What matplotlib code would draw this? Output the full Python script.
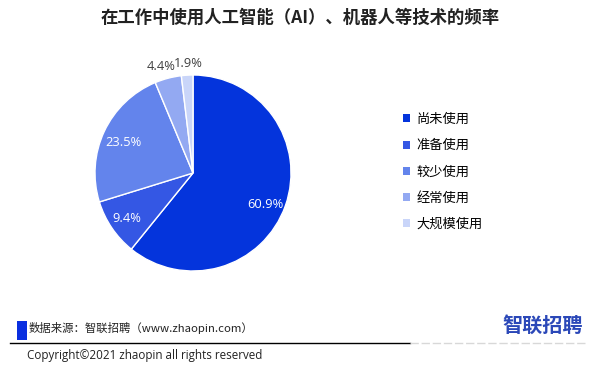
import numpy as np
import matplotlib
matplotlib.use("Agg")
import matplotlib.pyplot as plt
from matplotlib.patches import Patch, Rectangle
from matplotlib.lines import Line2D

plt.rcParams['font.family'] = ['Noto Sans CJK SC', 'DejaVu Sans']

# data
categories = ['尚未使用', '准备使用', '较少使用', '经常使用', '大规模使用']
shares = [60.9, 9.4, 23.5, 4.4, 1.9]
colors = ['#0434dc', '#3457e4', '#6384ec', '#93a9f2', '#c9d5f9']
label_text = ['60.9%', '9.4%', '23.5%', '4.4%', '1.9%']

fig = plt.figure(figsize=(6, 3.71), dpi=100)

# pie axes: centre ~ (193,173) px, radius ~98 px
cx, cy, r = 193, 173, 98
ax = fig.add_axes([(cx - r) / 600, (371 - cy - r) / 371, 2 * r / 600, 2 * r / 371])
wedges, _ = ax.pie(shares, colors=colors, startangle=90, counterclock=False,
                   wedgeprops=dict(edgecolor='white', linewidth=1.0))
ax.set_aspect('auto')
ax.set_xlim(-1, 1)
ax.set_ylim(-1, 1)

# percentage labels, inside for big slices, outside for the small ones
offsets = [(0, -0.06), (-0.03, -0.03), (0, -0.02), (-0.04, 0), (0.02, 0)]
for w, txt, (ox, oy) in zip(wedges, label_text, offsets):
    mid = np.deg2rad((w.theta1 + w.theta2) / 2)
    big = (w.theta2 - w.theta1) > 25
    dist = 0.78 if big else 1.12
    col = 'white' if big else '#404040'
    ax.text(dist * np.cos(mid) + ox, dist * np.sin(mid) + oy, txt, ha='center', va='center',
            fontsize=9.3, color=col, family=['Open Sans', 'DejaVu Sans'], clip_on=False)

# legend
handles = [Patch(facecolor=c, edgecolor='none') for c in colors]
fig.legend(handles, categories, loc='upper left', bbox_to_anchor=(403 / 600, 1 - 113 / 371),
           frameon=False, fontsize=9.5, handlelength=0.55, handleheight=0.55,
           handletextpad=0.45, labelspacing=1.0, borderaxespad=0, borderpad=0)

# title
fig.text(0.5, 1 - 18 / 371, '在工作中使用人工智能（AI）、机器人等技术的频率',
         ha='center', va='center', fontsize=12.5, fontweight='bold', color='#222222')

# footer
fig.patches.append(Rectangle((17 / 600, 1 - 340 / 371), 10 / 600, 19 / 371,
                             transform=fig.transFigure, facecolor='#0a2fe0', edgecolor='none'))
fig.text(29 / 600, 1 - 328 / 371, '数据来源：智联招聘（www.zhaopin.com）',
         ha='left', va='center', fontsize=8.2, color='#222222')
fig.lines.append(Line2D([10 / 600, 410 / 600], [1 - 343 / 371] * 2, transform=fig.transFigure,
                        color='black', linewidth=1.0))
fig.lines.append(Line2D([410 / 600, 585 / 600], [1 - 343 / 371] * 2, transform=fig.transFigure,
                        color='#d8d8d8', linewidth=1.0, linestyle=(0, (6, 2))))
fig.text(27 / 600, 1 - 355 / 371, 'Copyright©2021 zhaopin all rights reserved',
         ha='left', va='center', fontsize=8.4, color='#222222', family=['Open Sans', 'DejaVu Sans'])
fig.text(543 / 600, 1 - 325 / 371, '智联招聘', ha='center', va='center',
         fontsize=14.5, fontweight='bold', color='#2b48b8')

fig.savefig('out.png', dpi=100)
